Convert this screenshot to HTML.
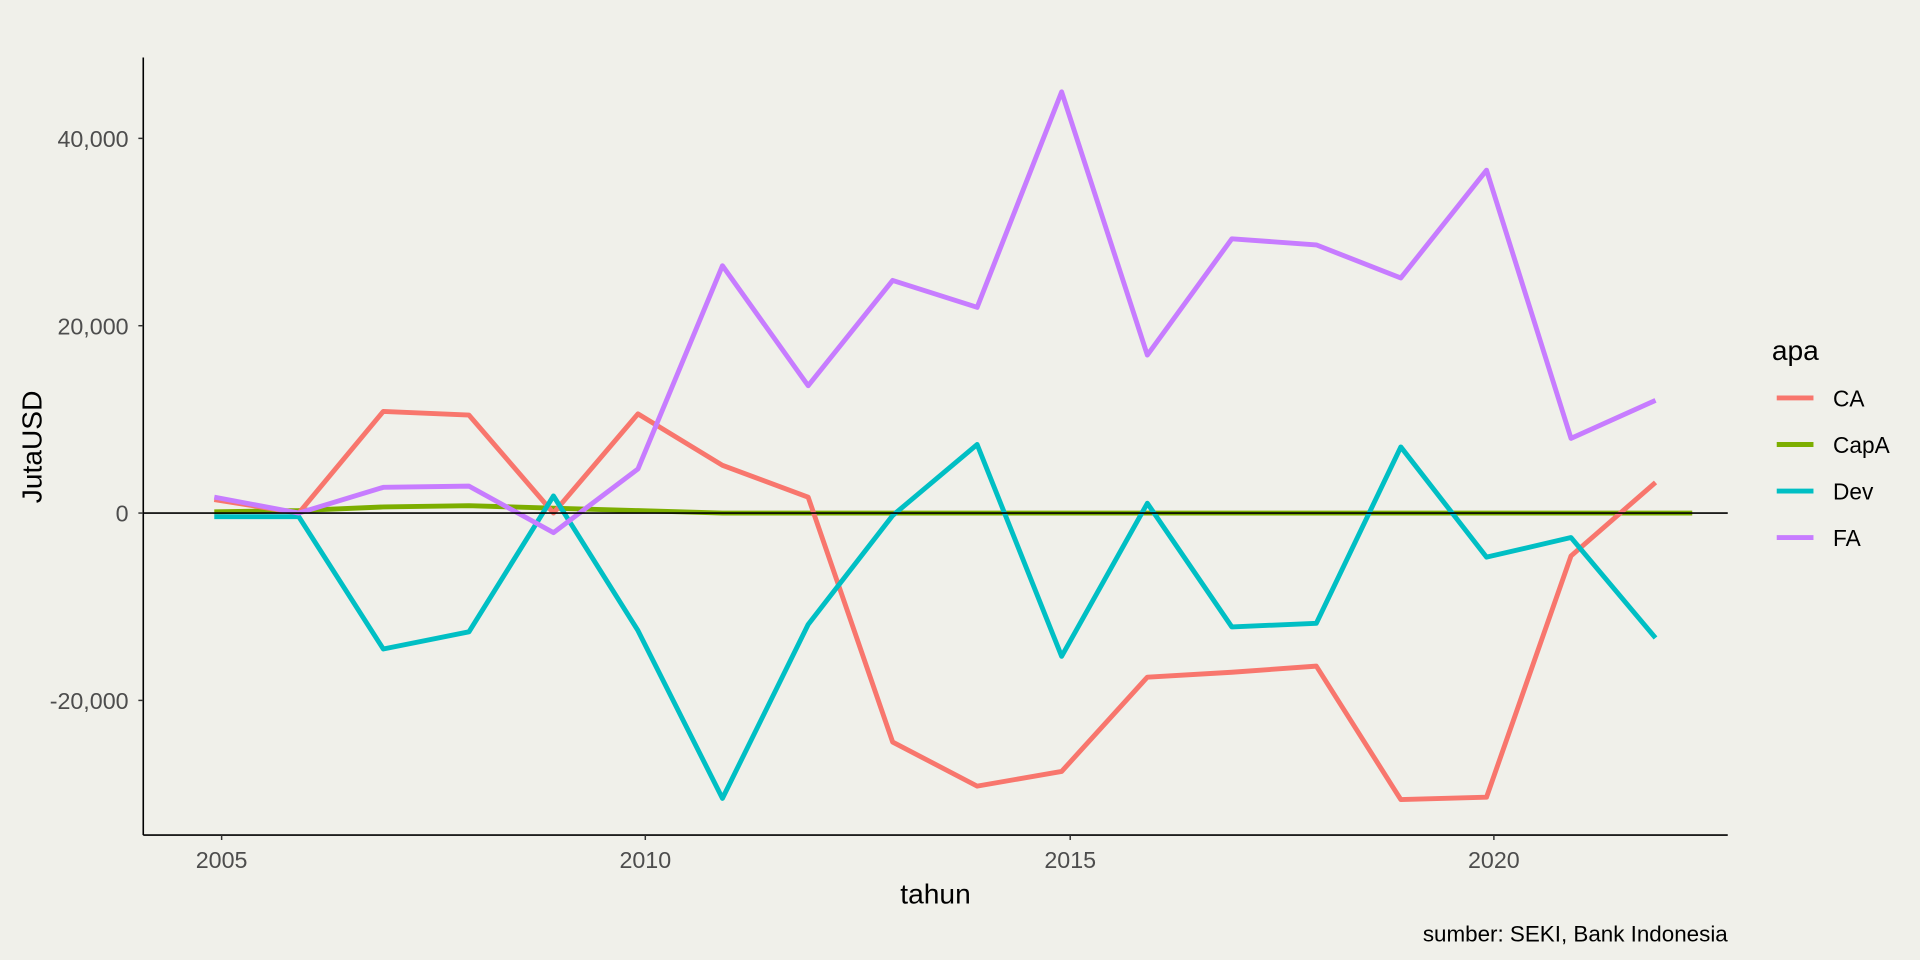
<!DOCTYPE html>
<html><head><style>html,body{margin:0;padding:0;background:#f0f0ea;}svg{display:block;}</style></head>
<body>
<svg width="1920" height="960" viewBox="0 0 1568 784" xmlns="http://www.w3.org/2000/svg" font-family="Liberation Sans, Arial, sans-serif">
<rect width="1568" height="784" fill="#f0f0ea"/>
<line x1="117" y1="47" x2="117" y2="682" stroke="#000" stroke-width="1.3"/>
<line x1="117" y1="682" x2="1411" y2="682" stroke="#000" stroke-width="1.3"/>
<g stroke="#333" stroke-width="1.2">
<line x1="113" y1="113" x2="117" y2="113"/><line x1="113" y1="266" x2="117" y2="266"/><line x1="113" y1="419" x2="117" y2="419"/><line x1="113" y1="572" x2="117" y2="572"/>
<line x1="181" y1="682" x2="181" y2="686"/><line x1="527" y1="682" x2="527" y2="686"/><line x1="874" y1="682" x2="874" y2="686"/><line x1="1220" y1="682" x2="1220" y2="686"/>
</g>
<g fill="#4d4d4d" font-size="19" text-anchor="end">
<text x="105" y="120">40,000</text><text x="105" y="273">20,000</text><text x="105" y="426">0</text><text x="105" y="579">-20,000</text>
</g>
<g fill="#4d4d4d" font-size="19" text-anchor="middle">
<text x="181" y="709">2005</text><text x="527" y="709">2010</text><text x="874" y="709">2015</text><text x="1220" y="709">2020</text>
</g>
<text x="764" y="738" font-size="23" text-anchor="middle">tahun</text>
<text transform="translate(34,365) rotate(-90)" font-size="23" text-anchor="middle">JutaUSD</text>
<text x="1411" y="769" font-size="18.3" text-anchor="end">sumber: SEKI, Bank Indonesia</text>
<g fill="none" stroke-width="4" stroke-linejoin="round">
<polyline stroke="#7CAE00" points="175,418 244,417 313,414 383,413 452,415 521,417 590,419 660,419 729,419 798,419 867,419 937,419 1006,419 1075,419 1144,419 1214,419 1283,419 1352,419 1382,419"/>
<polyline stroke="#F8766D" points="175,408 244,419 313,336 383,339 452,419 521,338 590,380 660,406 729,606 798,642 867,630 937,553 1006,549 1075,544 1144,653 1214,651 1283,454 1352,394"/>
<polyline stroke="#00BFC4" points="175,422 244,422 313,530 383,516 452,405 521,515 590,652 660,510 729,421 798,363 867,536 937,411 1006,512 1075,509 1144,365 1214,455 1283,439 1352,521"/>
<polyline stroke="#C77CFF" points="175,406 244,419 313,398 383,397 452,435 521,383 590,217 660,315 729,229 798,251 867,75 937,290 1006,195 1075,200 1144,227 1214,139 1283,358 1352,327"/>
</g>
<line x1="117" y1="419" x2="1411" y2="419" stroke="#000" stroke-width="1.3"/>
<text x="1447" y="294" font-size="23">apa</text>
<g stroke-width="4">
<line x1="1451" y1="325" x2="1481" y2="325" stroke="#F8766D"/>
<line x1="1451" y1="363" x2="1481" y2="363" stroke="#7CAE00"/>
<line x1="1451" y1="401" x2="1481" y2="401" stroke="#00BFC4"/>
<line x1="1451" y1="439" x2="1481" y2="439" stroke="#C77CFF"/>
</g>
<g font-size="18.5">
<text x="1497" y="332">CA</text><text x="1497" y="370">CapA</text><text x="1497" y="408">Dev</text><text x="1497" y="446">FA</text>
</g>
</svg>
</body></html>
